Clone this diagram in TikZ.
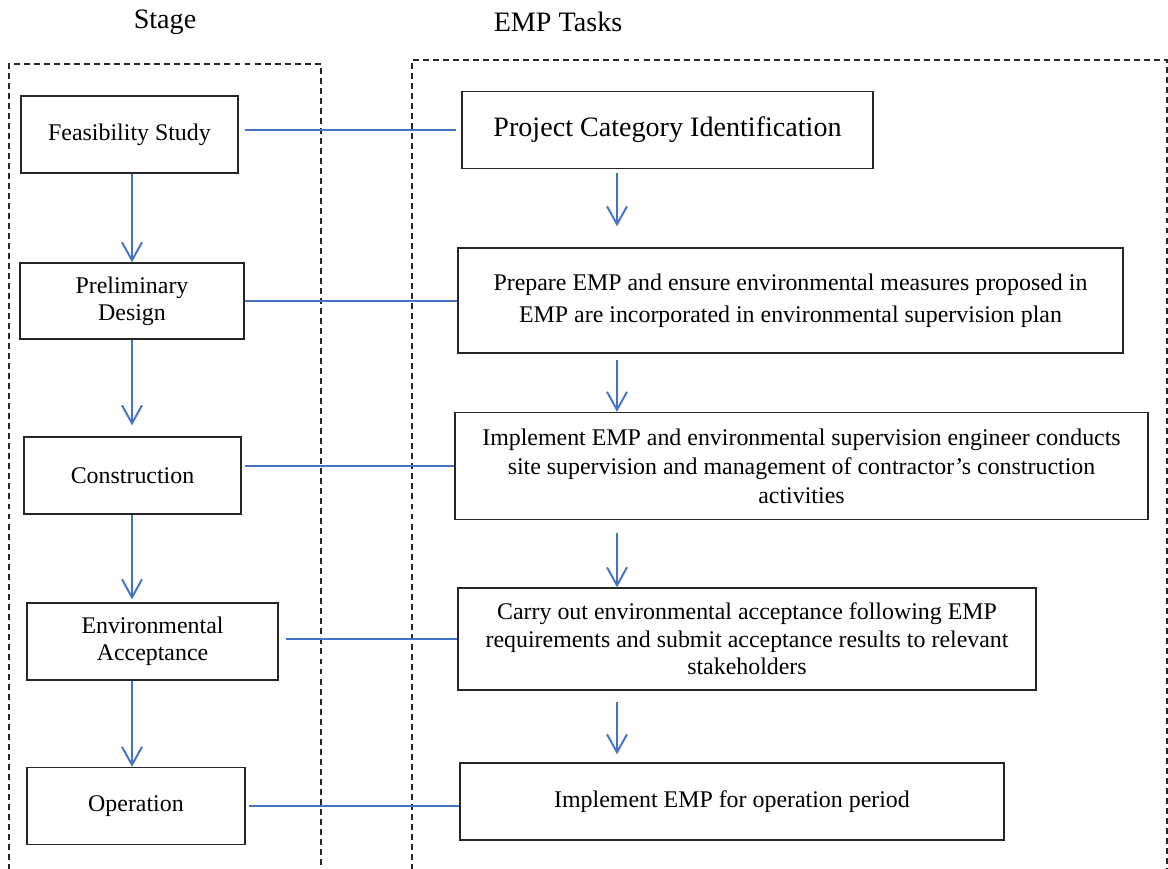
\documentclass[tikz,border=0pt]{standalone}
\usepackage{fontspec}
\setmainfont{Liberation Serif}
\usetikzlibrary{arrows.meta, calc}
\definecolor{linkblue}{RGB}{68,114,196}

\begin{document}
\begin{tikzpicture}[x=0.02cm, y=-0.02cm,
	stagebox/.style={rectangle, draw=black!85, line width=0.8pt, align=center, inner sep=2pt,
		font=\fontsize{13.6}{15.6}\selectfont},
	head/.style={font=\fontsize{16}{19}\selectfont},
	link/.style={draw=linkblue, line width=1.1pt},
	arrow/.style={link, -{Straight Barb[length=0.36cm, width=0.4cm]}},
	frame/.style={draw=black!85, line width=0.7pt, dash pattern=on 3.4pt off 2.3pt}]
		
		\useasboundingbox (0,0) rectangle (1168,868);
		
		%Headings
		\node [head] (stagehead) at (165,22) {Stage};
		\node [head] (taskhead) at (558,22) {EMP Tasks};
		
		%Lanes
		\draw [frame] (9,870) -- (9,64) -- (321,64) -- (321,870);
		\draw [frame] (412,870) -- (412,60) -- (1167,60) -- (1167,870);
		
		%Stage nodes
		\node [stagebox, minimum width=4.34cm, minimum height=1.54cm] 
		(feasibility) at (129.5,134.5) {Feasibility Study};
		
		\node [stagebox, minimum width=4.48cm, minimum height=1.52cm] 
		(preliminary) at (132,301) {Preliminary\\Design};
		
		\node [stagebox, minimum width=4.34cm, minimum height=1.54cm] 
		(construction) at (132.5,475.5) {Construction};
		
		\node [stagebox, minimum width=5.02cm, minimum height=1.54cm] 
		(acceptance) at (152.5,641.5) {Environmental\\Acceptance};
		
		\node [stagebox, minimum width=4.36cm, minimum height=1.54cm] 
		(operation) at (136,806) {Operation};
		
		%Task nodes
		\node [stagebox, minimum width=8.22cm, minimum height=1.54cm, font=\fontsize{16}{19}\selectfont] 
		(category) at (667.5,130) {Project Category Identification};
		
		\node [stagebox, minimum width=13.3cm, minimum height=2.1cm, font=\fontsize{13.6}{18}\selectfont] 
		(prepare) at (790.5,300.5) {Prepare EMP and ensure environmental measures proposed in\\
			EMP are incorporated in environmental supervision plan};
		
		\node [stagebox, minimum width=13.86cm, minimum height=2.14cm, font=\fontsize{13.6}{16.5}\selectfont] 
		(implement) at (801.5,466) {Implement EMP and environmental supervision engineer conducts\\
			site supervision and management of contractor's construction\\activities};
		
		\node [stagebox, minimum width=11.56cm, minimum height=2.04cm] 
		(carryout) at (747,639) {Carry out environmental acceptance following EMP\\
			requirements and submit acceptance results to relevant\\stakeholders};
		
		\node [stagebox, minimum width=10.88cm, minimum height=1.54cm] 
		(opemp) at (732,801.5) {Implement EMP for operation period};
		
		\coordinate (leftlane) at (132,0);
		\coordinate (rightlane) at (617,0);
		
		%Links down the stages
		\draw [arrow] (feasibility.south -| leftlane) -- (preliminary.north -| leftlane);
		\draw [arrow, shorten >=0.22cm] (preliminary.south -| leftlane) -- (construction.north -| leftlane);
		\draw [arrow, shorten >=0.06cm] (construction.south -| leftlane) -- (acceptance.north -| leftlane);
		\draw [arrow] (acceptance.south -| leftlane) -- (operation.north -| leftlane);
		
		%Links down the tasks
		\draw [arrow, shorten <=0.08cm, shorten >=0.42cm] (category.south -| rightlane) -- (prepare.north -| rightlane);
		\draw [arrow, shorten <=0.12cm] (prepare.south -| rightlane) -- (implement.north -| rightlane);
		\draw [arrow, shorten <=0.26cm] (implement.south -| rightlane) -- (carryout.north -| rightlane);
		\draw [arrow, shorten <=0.22cm, shorten >=0.16cm] (carryout.south -| rightlane) -- (opemp.north -| rightlane);
		
		%Stage to task
		\draw [link, shorten <=0.12cm, shorten >=0.1cm] (category.west -| feasibility.east) -- (category.west);
		\draw [link] (preliminary.east) -- (preliminary.east -| prepare.west);
		\draw [link, shorten <=0.06cm] (implement.west -| construction.east) -- (implement.west);
		\draw [link, shorten <=0.14cm] (carryout.west -| acceptance.east) -- (carryout.west);
		\draw [link, shorten <=0.06cm] (operation.east) -- (operation.east -| opemp.west);
		
\end{tikzpicture}
\end{document}
